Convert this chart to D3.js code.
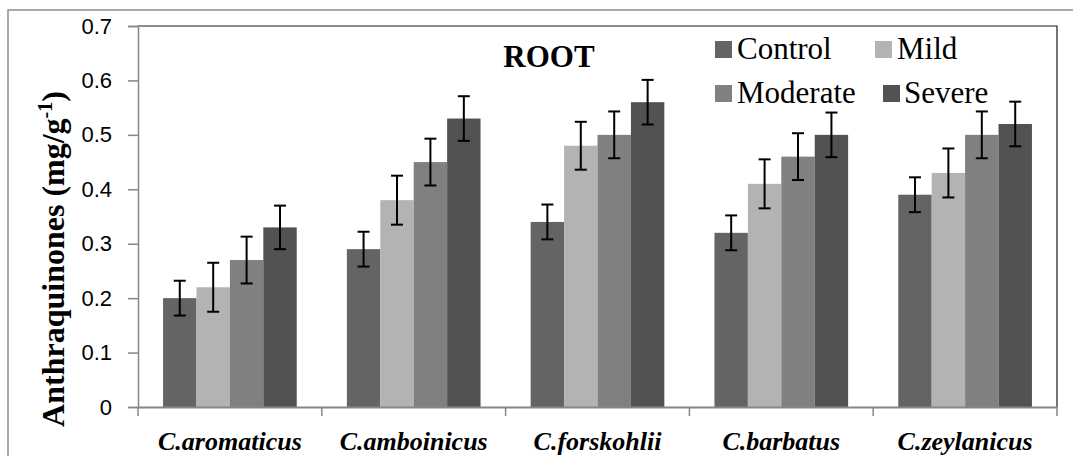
<!DOCTYPE html>
<html>
<head>
<meta charset="utf-8">
<script src="https://cdn.jsdelivr.net/npm/d3@7"></script>
<style>
  html, body { margin: 0; padding: 0; background: #fff; }
  svg { display: block; }
  .serif { font-family: "Liberation Serif", "Times New Roman", serif; }
  .sans { font-family: "Liberation Sans", Arial, sans-serif; }
</style>
</head>
<body>
<svg id="chart" width="1073" height="456"></svg>
<script>
// ---- data ----
const categories = ["C.aromaticus", "C.amboinicus", "C.forskohlii", "C.barbatus", "C.zeylanicus"];
const seriesNames = ["Control", "Mild", "Moderate", "Severe"];
const controlValues  = [0.20, 0.29, 0.34, 0.32, 0.39];
const mildValues     = [0.22, 0.38, 0.48, 0.41, 0.43];
const moderateValues = [0.27, 0.45, 0.50, 0.46, 0.50];
const severeValues   = [0.33, 0.53, 0.56, 0.50, 0.52];
const controlErrors  = [0.032, 0.032, 0.032, 0.032, 0.032];
const mildErrors     = [0.045, 0.045, 0.044, 0.045, 0.045];
const moderateErrors = [0.043, 0.043, 0.043, 0.043, 0.043];
const severeErrors   = [0.040, 0.041, 0.041, 0.041, 0.041];
const yTicks = [0, 0.1, 0.2, 0.3, 0.4, 0.5, 0.6, 0.7];
const yTickLabels = ["0", "0.1", "0.2", "0.3", "0.4", "0.5", "0.6", "0.7"];

const seriesValues = [controlValues, mildValues, moderateValues, severeValues];
const seriesErrors = [controlErrors, mildErrors, moderateErrors, severeErrors];
const colors = ["#646464", "#b3b3b3", "#808080", "#525252"];

// ---- layout ----
const svg = d3.select("#chart");
const L = 138, R = 1057, T = 26, B = 407;

const x0 = d3.scaleBand().domain(categories).range([L, R])
  .paddingInner(0.2727).paddingOuter(0.13636);
const x1 = d3.scaleBand().domain(seriesNames).range([0, x0.bandwidth()]).padding(0);
const y = d3.scaleLinear().domain([0, 0.7]).range([B, T]);

// outer chart border
svg.append("rect").attr("x", 8).attr("y", 10).attr("width", 1100).attr("height", 500)
  .attr("fill", "none").attr("stroke", "#8c8c8c").attr("stroke-width", 1.5);

// bars
const rows = [];
categories.forEach((c, ci) => {
  seriesNames.forEach((s, si) => {
    rows.push({ cat: c, ser: s, si: si, v: seriesValues[si][ci], e: seriesErrors[si][ci] });
  });
});

svg.append("g").selectAll("rect").data(rows).join("rect")
  .attr("x", d => x0(d.cat) + x1(d.ser))
  .attr("y", d => y(d.v))
  .attr("width", x1.bandwidth())
  .attr("height", d => y(0) - y(d.v))
  .attr("fill", d => colors[d.si]);

// error bars
const eg = svg.append("g").attr("stroke", "#000").attr("stroke-width", 2);
rows.forEach(d => {
  const cx = x0(d.cat) + x1(d.ser) + x1.bandwidth() / 2;
  const y1 = y(d.v + d.e), y2 = y(d.v - d.e);
  eg.append("line").attr("x1", cx).attr("x2", cx).attr("y1", y1).attr("y2", y2);
  eg.append("line").attr("x1", cx - 6).attr("x2", cx + 6).attr("y1", y1).attr("y2", y1);
  eg.append("line").attr("x1", cx - 6).attr("x2", cx + 6).attr("y1", y2).attr("y2", y2);
});

// plot frame top / right (black)
svg.append("path").attr("d", `M${L},${T}H${R}V${B}`)
  .attr("fill", "none").attr("stroke", "#1a1a1a").attr("stroke-width", 1.2);

// y axis
const yAxis = d3.axisLeft(y).tickValues(yTicks)
  .tickFormat((d, i) => yTickLabels[i]).tickSize(10).tickPadding(16);
const yg = svg.append("g").attr("transform", `translate(${L},0)`).call(yAxis);
yg.attr("font-family", null).attr("font-size", null);
yg.select(".domain").attr("stroke", "#868686").attr("stroke-width", 1.5);
yg.selectAll(".tick line").attr("stroke", "#868686").attr("stroke-width", 1.5);
yg.selectAll(".tick text").attr("class", "sans")
  .style("font-size", "22px").attr("fill", "#000");

// x axis
const xAxis = d3.axisBottom(x0).tickSize(0).tickPadding(0).tickFormat("");
const xg = svg.append("g").attr("transform", `translate(0,${B})`).call(xAxis);
xg.select(".domain").attr("stroke", "#868686").attr("stroke-width", 2);
const step = x0.step();
const boundaries = categories.map(c => x0(c) - step * x0.paddingInner() / 2);
boundaries.push(R);
xg.selectAll(".bnd").data(boundaries).join("line").attr("class", "bnd")
  .attr("x1", d => d).attr("x2", d => d).attr("y1", 0).attr("y2", 9)
  .attr("stroke", "#868686").attr("stroke-width", 1.5);

// category labels
svg.append("g").selectAll("text").data(categories).join("text")
  .attr("class", "serif")
  .attr("x", d => x0(d) + x0.bandwidth() / 2)
  .attr("y", 450)
  .attr("text-anchor", "middle")
  .style("font-weight", "bold").style("font-style", "italic")
  .style("font-size", "26px")
  .text(d => d);

// y axis title
const yt = svg.append("text").attr("class", "serif")
  .attr("transform", "translate(64,259) rotate(-90)")
  .attr("text-anchor", "middle")
  .style("font-weight", "bold").style("font-size", "32px");
yt.append("tspan").text("Anthraquinones (mg/g");
yt.append("tspan").style("font-size", "20px").attr("dy", -12).text("-1");
yt.append("tspan").attr("dy", 12).text(")");

// title
svg.append("text").attr("class", "serif").attr("x", 549).attr("y", 67).attr("text-anchor", "middle")
  .style("font-weight", "bold").style("font-size", "31px").text("ROOT");

// legend
const legendPos = [
  { sx: 715, tx: 737, by: 59 },
  { sx: 875, tx: 897, by: 59 },
  { sx: 715, tx: 737, by: 103 },
  { sx: 883, tx: 904, by: 103 }
];
const lg = svg.append("g");
seriesNames.forEach((s, i) => {
  const p = legendPos[i];
  lg.append("rect").attr("x", p.sx).attr("y", p.by - 18).attr("width", 17).attr("height", 17)
    .attr("fill", colors[i]);
  lg.append("text").attr("class", "serif").attr("x", p.tx).attr("y", p.by)
    .style("font-size", "31px").text(s);
});
</script>
</body>
</html>
